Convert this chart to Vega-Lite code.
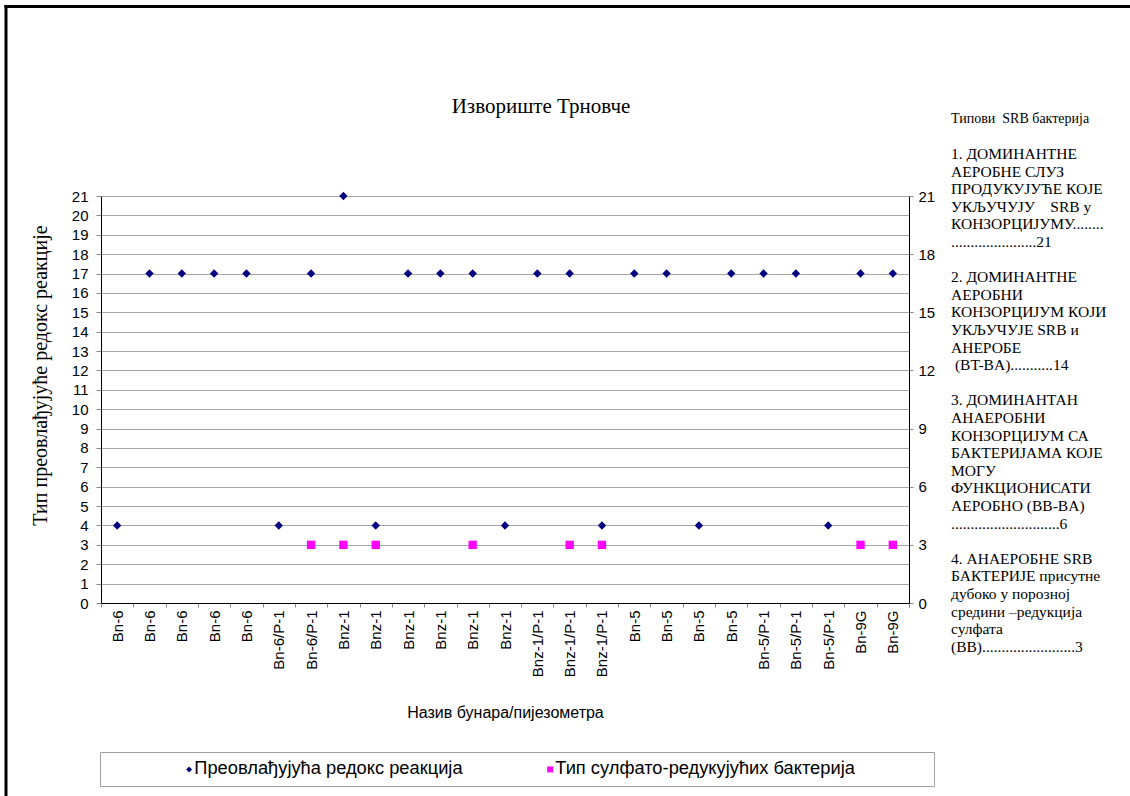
{
  "$schema": "https://vega.github.io/schema/vega-lite/v6.json",
  "width": 808,
  "height": 407,
  "autosize": {"type": "none"},
  "padding": {"left": 101, "top": 196, "right": 221, "bottom": 193},
  "background": "white",
  "config": {"view": {"stroke": null}, "font": "Liberation Sans"},
  "title": {"text": "Извориште Трновче", "font": "Liberation Serif", "fontSize": 21, "fontWeight": "normal", "color": "black", "anchor": "middle", "dx": 36, "offset": 0, "dy": 113},
  "datasets": {
    "points": [
      {"idx": 1, "well": "Bn-6", "series": "Преовлађујућа редокс реакција", "value": 4},
      {"idx": 2, "well": "Bn-6", "series": "Преовлађујућа редокс реакција", "value": 17},
      {"idx": 3, "well": "Bn-6", "series": "Преовлађујућа редокс реакција", "value": 17},
      {"idx": 4, "well": "Bn-6", "series": "Преовлађујућа редокс реакција", "value": 17},
      {"idx": 5, "well": "Bn-6", "series": "Преовлађујућа редокс реакција", "value": 17},
      {"idx": 6, "well": "Bn-6/P-1", "series": "Преовлађујућа редокс реакција", "value": 4},
      {"idx": 7, "well": "Bn-6/P-1", "series": "Преовлађујућа редокс реакција", "value": 17},
      {"idx": 8, "well": "Bnz-1", "series": "Преовлађујућа редокс реакција", "value": 21},
      {"idx": 9, "well": "Bnz-1", "series": "Преовлађујућа редокс реакција", "value": 4},
      {"idx": 10, "well": "Bnz-1", "series": "Преовлађујућа редокс реакција", "value": 17},
      {"idx": 11, "well": "Bnz-1", "series": "Преовлађујућа редокс реакција", "value": 17},
      {"idx": 12, "well": "Bnz-1", "series": "Преовлађујућа редокс реакција", "value": 17},
      {"idx": 13, "well": "Bnz-1", "series": "Преовлађујућа редокс реакција", "value": 4},
      {"idx": 14, "well": "Bnz-1/P-1", "series": "Преовлађујућа редокс реакција", "value": 17},
      {"idx": 15, "well": "Bnz-1/P-1", "series": "Преовлађујућа редокс реакција", "value": 17},
      {"idx": 16, "well": "Bnz-1/P-1", "series": "Преовлађујућа редокс реакција", "value": 4},
      {"idx": 17, "well": "Bn-5", "series": "Преовлађујућа редокс реакција", "value": 17},
      {"idx": 18, "well": "Bn-5", "series": "Преовлађујућа редокс реакција", "value": 17},
      {"idx": 19, "well": "Bn-5", "series": "Преовлађујућа редокс реакција", "value": 4},
      {"idx": 20, "well": "Bn-5", "series": "Преовлађујућа редокс реакција", "value": 17},
      {"idx": 21, "well": "Bn-5/P-1", "series": "Преовлађујућа редокс реакција", "value": 17},
      {"idx": 22, "well": "Bn-5/P-1", "series": "Преовлађујућа редокс реакција", "value": 17},
      {"idx": 23, "well": "Bn-5/P-1", "series": "Преовлађујућа редокс реакција", "value": 4},
      {"idx": 24, "well": "Bn-9G", "series": "Преовлађујућа редокс реакција", "value": 17},
      {"idx": 25, "well": "Bn-9G", "series": "Преовлађујућа редокс реакција", "value": 17},
      {"idx": 7, "well": "Bn-6/P-1", "series": "Тип сулфато-редукујућих бактерија", "value": 3},
      {"idx": 8, "well": "Bnz-1", "series": "Тип сулфато-редукујућих бактерија", "value": 3},
      {"idx": 9, "well": "Bnz-1", "series": "Тип сулфато-редукујућих бактерија", "value": 3},
      {"idx": 12, "well": "Bnz-1", "series": "Тип сулфато-редукујућих бактерија", "value": 3},
      {"idx": 15, "well": "Bnz-1/P-1", "series": "Тип сулфато-редукујућих бактерија", "value": 3},
      {"idx": 16, "well": "Bnz-1/P-1", "series": "Тип сулфато-редукујућих бактерија", "value": 3},
      {"idx": 24, "well": "Bn-9G", "series": "Тип сулфато-редукујућих бактерија", "value": 3},
      {"idx": 25, "well": "Bn-9G", "series": "Тип сулфато-редукујућих бактерија", "value": 3}
    ],
    "notes": [
      {"line": -2, "text": "Типови\u00a0\u00a0SRB бактерија"},
      {"line": 0, "text": "1. ДОМИНАНТНЕ"},
      {"line": 1, "text": "АЕРОБНЕ СЛУЗ"},
      {"line": 2, "text": "ПРОДУКУЈУЋЕ КОЈЕ"},
      {"line": 3, "text": "УКЉУЧУЈУ\u00a0\u00a0\u00a0\u00a0SRB у"},
      {"line": 4, "text": "КОНЗОРЦИЈУМУ........"},
      {"line": 5, "text": "......................21"},
      {"line": 7, "text": "2. ДОМИНАНТНЕ"},
      {"line": 8, "text": "АЕРОБНИ"},
      {"line": 9, "text": "КОНЗОРЦИЈУМ КОЈИ"},
      {"line": 10, "text": "УКЉУЧУЈЕ SRB и"},
      {"line": 11, "text": "АНЕРОБЕ"},
      {"line": 12, "text": "\u200b\u00a0(BT-BA)...........14"},
      {"line": 14, "text": "3. ДОМИНАНТАН"},
      {"line": 15, "text": "АНАЕРОБНИ"},
      {"line": 16, "text": "КОНЗОРЦИЈУМ СА"},
      {"line": 17, "text": "БАКТЕРИЈАМА КОЈЕ"},
      {"line": 18, "text": "МОГУ"},
      {"line": 19, "text": "ФУНКЦИОНИСАТИ"},
      {"line": 20, "text": "АЕРОБНО (BB-BA)"},
      {"line": 21, "text": "............................6"},
      {"line": 23, "text": "4. АНАЕРОБНЕ SRB"},
      {"line": 24, "text": "БАКТЕРИЈЕ присутне"},
      {"line": 25, "text": "дубоко у порозној"},
      {"line": 26, "text": "средини –редукција"},
      {"line": 27, "text": "сулфата"},
      {"line": 28, "text": "(BB)........................3"}
    ]
  },
  "resolve": {"scale": {"y": "independent"}},
  "layer": [
    {
      "data": {"name": "points"},
      "transform": [{"filter": {"field": "series", "equal": "Преовлађујућа редокс реакција"}}],
      "mark": {"type": "point", "filled": true, "opacity": 1, "size": 70},
      "encoding": {
        "x": {
          "field": "idx", "type": "quantitative",
          "scale": {"domain": [0.5, 25.5], "nice": false, "zero": false},
          "axis": {
            "values": [0.5, 1.5, 2.5, 3.5, 4.5, 5.5, 6.5, 7.5, 8.5, 9.5, 10.5, 11.5, 12.5, 13.5, 14.5, 15.5, 16.5, 17.5, 18.5, 19.5, 20.5, 21.5, 22.5, 23.5, 24.5, 25.5],
            "tickCount": 100,
            "labelExpr": "datum.value < 25 ? ['Bn-6','Bn-6','Bn-6','Bn-6','Bn-6','Bn-6/P-1','Bn-6/P-1','Bnz-1','Bnz-1','Bnz-1','Bnz-1','Bnz-1','Bnz-1','Bnz-1/P-1','Bnz-1/P-1','Bnz-1/P-1','Bn-5','Bn-5','Bn-5','Bn-5','Bn-5/P-1','Bn-5/P-1','Bn-5/P-1','Bn-9G','Bn-9G'][floor(datum.value)] : ''",
            "labelAngle": 270, "labelOffset": 16.16, "labelFlush": false, "labelOverlap": false, "labelBound": false,
            "labelFont": "Liberation Sans", "labelFontSize": 15, "labelColor": "black", "labelPadding": 3,
            "tickSize": 4, "tickColor": "#888888", "domainColor": "black", "grid": false,
            "title": "Назив бунара/пијезометра", "titleFont": "Liberation Sans", "titleFontSize": 16, "titleFontWeight": "normal", "titleColor": "black", "titleY": 109, "titleBaseline": "middle"
          }
        },
        "y": {
          "field": "value", "type": "quantitative",
          "scale": {"domain": [0, 21], "nice": false, "zero": false},
          "axis": {
            "values": [0, 1, 2, 3, 4, 5, 6, 7, 8, 9, 10, 11, 12, 13, 14, 15, 16, 17, 18, 19, 20, 21],
            "tickCount": 100,
            "format": "d", "labelOverlap": false,
            "labelFont": "Liberation Sans", "labelFontSize": 15, "labelColor": "black", "labelPadding": 8,
            "tickSize": 5, "tickColor": "#888888", "domainColor": "black",
            "grid": true, "gridColor": "#a6a6a6",
            "title": "Тип преовлађујуће редокс реакције", "titleFont": "Liberation Serif", "titleFontSize": 20, "titleFontWeight": "normal", "titleColor": "black",
            "titleX": -61, "titleY": 179, "titleBaseline": "middle"
          }
        },
        "color": {
          "field": "series", "type": "nominal",
          "scale": {"domain": ["Преовлађујућа редокс реакција", "Тип сулфато-редукујућих бактерија"], "range": ["#000080", "#FF00FF"]},
          "legend": {"title": " ", "orient": "none", "legendX": -1, "legendY": 556, "direction": "horizontal", "titleOrient": "left", "titleFontSize": 1, "titlePadding": 72, "padding": 8, "strokeColor": "#a0a0a0", "fillColor": "white", "labelFont": "Liberation Sans", "labelFontSize": 18.3, "labelColor": "black", "labelLimit": 1000, "symbolSize": 36, "columnPadding": 78, "labelOffset": -4, "labelExpr": "datum.label == 'Тип сулфато-редукујућих бактерија' ? datum.label + '\u00a0\u00a0\u00a0\u00a0\u00a0\u00a0\u00a0\u00a0\u00a0\u00a0\u00a0\u00a0\u00a0\u00a0\u200b' : datum.label"}
        },
        "shape": {
          "field": "series", "type": "nominal",
          "scale": {"domain": ["Преовлађујућа редокс реакција", "Тип сулфато-редукујућих бактерија"], "range": ["diamond", "square"]},
          "legend": {"title": " ", "orient": "none", "legendX": -1, "legendY": 556, "direction": "horizontal", "titleOrient": "left", "titleFontSize": 1, "titlePadding": 72, "padding": 8, "strokeColor": "#a0a0a0", "fillColor": "white", "labelFont": "Liberation Sans", "labelFontSize": 18.3, "labelColor": "black", "labelLimit": 1000, "symbolSize": 36, "columnPadding": 78, "labelOffset": -4, "labelExpr": "datum.label == 'Тип сулфато-редукујућих бактерија' ? datum.label + '\u00a0\u00a0\u00a0\u00a0\u00a0\u00a0\u00a0\u00a0\u00a0\u00a0\u00a0\u00a0\u00a0\u00a0\u200b' : datum.label"}
        }
      }
    },
    {
      "data": {"name": "points"},
      "transform": [{"filter": {"field": "series", "equal": "Тип сулфато-редукујућих бактерија"}}],
      "mark": {"type": "point", "filled": true, "opacity": 1, "size": 70},
      "encoding": {
        "x": {"field": "idx", "type": "quantitative", "scale": {"domain": [0.5, 25.5], "nice": false, "zero": false}},
        "y": {
          "field": "value", "type": "quantitative",
          "scale": {"domain": [0, 21], "nice": false, "zero": false},
          "axis": {
            "orient": "right", "values": [0, 3, 6, 9, 12, 15, 18, 21], "tickCount": 100, "format": "d", "title": null,
            "labelFont": "Liberation Sans", "labelFontSize": 15, "labelColor": "black", "labelPadding": 5,
            "tickSize": 4, "tickColor": "#888888", "domainColor": "black", "grid": false
          }
        },
        "color": {
          "field": "series", "type": "nominal",
          "scale": {"domain": ["Преовлађујућа редокс реакција", "Тип сулфато-редукујућих бактерија"], "range": ["#000080", "#FF00FF"]},
          "legend": {"title": " ", "orient": "none", "legendX": -1, "legendY": 556, "direction": "horizontal", "titleOrient": "left", "titleFontSize": 1, "titlePadding": 72, "padding": 8, "strokeColor": "#a0a0a0", "fillColor": "white", "labelFont": "Liberation Sans", "labelFontSize": 18.3, "labelColor": "black", "labelLimit": 1000, "symbolSize": 36, "columnPadding": 78, "labelOffset": -4, "labelExpr": "datum.label == 'Тип сулфато-редукујућих бактерија' ? datum.label + '\u00a0\u00a0\u00a0\u00a0\u00a0\u00a0\u00a0\u00a0\u00a0\u00a0\u00a0\u00a0\u00a0\u00a0\u200b' : datum.label"}
        },
        "shape": {
          "field": "series", "type": "nominal",
          "scale": {"domain": ["Преовлађујућа редокс реакција", "Тип сулфато-редукујућих бактерија"], "range": ["diamond", "square"]},
          "legend": {"title": " ", "orient": "none", "legendX": -1, "legendY": 556, "direction": "horizontal", "titleOrient": "left", "titleFontSize": 1, "titlePadding": 72, "padding": 8, "strokeColor": "#a0a0a0", "fillColor": "white", "labelFont": "Liberation Sans", "labelFontSize": 18.3, "labelColor": "black", "labelLimit": 1000, "symbolSize": 36, "columnPadding": 78, "labelOffset": -4, "labelExpr": "datum.label == 'Тип сулфато-редукујућих бактерија' ? datum.label + '\u00a0\u00a0\u00a0\u00a0\u00a0\u00a0\u00a0\u00a0\u00a0\u00a0\u00a0\u00a0\u00a0\u00a0\u200b' : datum.label"}
        }
      }
    },
    {
      "data": {"name": "notes"},
      "mark": {"type": "text", "align": "left", "baseline": "middle", "font": "Liberation Serif", "color": "black"},
      "encoding": {
        "x": {"datum": 26.8, "type": "quantitative", "scale": {"domain": [0.5, 25.5], "nice": false, "zero": false}},
        "y": {"field": "line", "type": "quantitative", "scale": {"domain": [2.386, 25.511], "reverse": true, "nice": false, "zero": false}, "axis": null},
        "text": {"field": "text", "type": "nominal"},
        "size": {"condition": {"test": "datum.line < 0", "value": 14}, "value": 15.5}
      }
    },
    {
      "data": {"values": [{}]},
      "layer": [
        {
          "mark": {"type": "rule", "color": "black", "strokeWidth": 3},
          "encoding": {
            "x": {"datum": -2.486, "type": "quantitative", "scale": {"domain": [0.5, 25.5], "nice": false, "zero": false}},
            "x2": {"datum": 40},
            "y": {"datum": 30.778, "type": "quantitative", "scale": {"domain": [0, 21], "nice": false, "zero": false}, "axis": null}
          }
        },
        {
          "mark": {"type": "rule", "color": "black", "strokeWidth": 3},
          "encoding": {
            "x": {"datum": -2.439, "type": "quantitative", "scale": {"domain": [0.5, 25.5], "nice": false, "zero": false}},
            "y": {"datum": 30.855, "type": "quantitative", "scale": {"domain": [0, 21], "nice": false, "zero": false}, "axis": null},
            "y2": {"datum": -20}
          }
        }
      ]
    }
  ]
}
